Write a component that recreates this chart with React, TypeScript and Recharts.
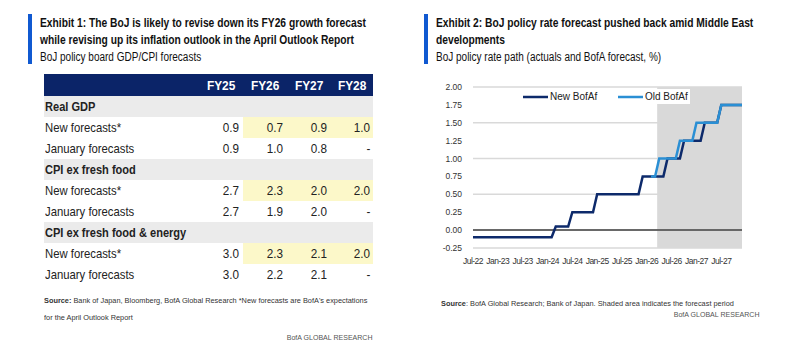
import React from "react";
import {
  CartesianGrid,
  Legend,
  Line,
  LineChart,
  ReferenceArea,
  ReferenceLine,
  XAxis,
  YAxis,
} from "recharts";

// Exhibit 1 table data
const fyYears = ["FY25", "FY26", "FY27", "FY28"];
const sections = ["Real GDP", "CPI ex fresh food", "CPI ex fresh food & energy"];
const newForecasts = [
  ["0.9", "0.7", "0.9", "1.0"],
  ["2.7", "2.3", "2.0", "2.0"],
  ["3.0", "2.3", "2.1", "2.0"],
];
const janForecasts = [
  ["0.9", "1.0", "0.8", "-"],
  ["2.7", "1.9", "2.0", "-"],
  ["3.0", "2.2", "2.1", "-"],
];

// Exhibit 2 chart data (monthly, Jul-22 .. Dec-27)
const months = [
  "Jul-22", "Aug-22", "Sep-22", "Oct-22", "Nov-22", "Dec-22",
  "Jan-23", "Feb-23", "Mar-23", "Apr-23", "May-23", "Jun-23",
  "Jul-23", "Aug-23", "Sep-23", "Oct-23", "Nov-23", "Dec-23",
  "Jan-24", "Feb-24", "Mar-24", "Apr-24", "May-24", "Jun-24",
  "Jul-24", "Aug-24", "Sep-24", "Oct-24", "Nov-24", "Dec-24",
  "Jan-25", "Feb-25", "Mar-25", "Apr-25", "May-25", "Jun-25",
  "Jul-25", "Aug-25", "Sep-25", "Oct-25", "Nov-25", "Dec-25",
  "Jan-26", "Feb-26", "Mar-26", "Apr-26", "May-26", "Jun-26",
  "Jul-26", "Aug-26", "Sep-26", "Oct-26", "Nov-26", "Dec-26",
  "Jan-27", "Feb-27", "Mar-27", "Apr-27", "May-27", "Jun-27",
  "Jul-27", "Aug-27", "Sep-27", "Oct-27", "Nov-27", "Dec-27",
];
const newBofA = [
  -0.1, -0.1, -0.1, -0.1, -0.1, -0.1,
  -0.1, -0.1, -0.1, -0.1, -0.1, -0.1,
  -0.1, -0.1, -0.1, -0.1, -0.1, -0.1,
  -0.1, -0.1, 0.05, 0.05, 0.05, 0.05,
  0.25, 0.25, 0.25, 0.25, 0.25, 0.25,
  0.5, 0.5, 0.5, 0.5, 0.5, 0.5,
  0.5, 0.5, 0.5, 0.5, 0.5, 0.75,
  0.75, 0.75, 0.75, 0.75, 0.75, 1.0,
  1.0, 1.0, 1.0, 1.25, 1.25, 1.25,
  1.25, 1.25, 1.5, 1.5, 1.5, 1.5,
  1.75, 1.75, 1.75, 1.75, 1.75, 1.75,
];
const oldBofA = [
  null, null, null, null, null, null,
  null, null, null, null, null, null,
  null, null, null, null, null, null,
  null, null, null, null, null, null,
  null, null, null, null, null, null,
  null, null, null, null, null, null,
  null, null, null, null, null, null,
  null, 0.75, 0.75, 1.0, 1.0, 1.0,
  1.0, 1.0, 1.25, 1.25, 1.25, 1.25,
  1.5, 1.5, 1.5, 1.5, 1.5, 1.5,
  1.75, 1.75, 1.75, 1.75, 1.75, 1.75,
];
const yTicks = [-0.25, 0, 0.25, 0.5, 0.75, 1.0, 1.25, 1.5, 1.75, 2.0];
const forecastStart = 44.5; // shaded forecast period begins between Mar-26 and Apr-26

const rateData = months.map((m, i) => ({
  i,
  month: m,
  newRate: newBofA[i],
  oldRate: oldBofA[i],
}));
const xTicks = months.map((_, i) => i).filter((i) => i % 6 === 0);

const FONT = "'Liberation Sans', Arial, sans-serif";
const NAVY = "#0b2468";
const BLUE_BAR = "#1059d1";

// squeeze text horizontally to mimic the condensed house font
const Sq = ({ k, origin = "left", children }: { k: number; origin?: string; children: React.ReactNode }) => (
  <span
    style={{
      display: "inline-block",
      transform: `scaleX(${k})`,
      transformOrigin: origin,
      whiteSpace: "nowrap",
    }}
  >
    {children}
  </span>
);

const RateLegend = (props: any) => {
  const items = props.payload || [];
  return (
    <div
      style={{
        display: "flex",
        alignItems: "center",
        background: "#fff",
        height: 15,
        paddingLeft: 5,
        fontFamily: FONT,
        fontSize: 10,
        color: "#222",
      }}
    >
      {items.map((it: any, k: number) => (
        <div key={k} style={{ display: "flex", alignItems: "center", width: k === 0 ? 95 : 72 }}>
          <svg width={25} height={4} style={{ marginRight: 2 }}>
            <line x1={0} y1={2} x2={25} y2={2} stroke={it.color} strokeWidth={2.5} />
          </svg>
          <span style={{ whiteSpace: "nowrap" }}>{it.value}</span>
        </div>
      ))}
    </div>
  );
};

const Title = ({ left, lines, sub }: { left: number; lines: string[]; sub: string }) => (
  <>
    <div style={{ position: "absolute", left: left - 12, top: 14, width: 4, height: 50, background: BLUE_BAR }} />
    <div
      style={{
        position: "absolute",
        left,
        top: 15,
        fontFamily: FONT,
        fontSize: 12.5,
        lineHeight: "17px",
        color: "#111",
        whiteSpace: "nowrap",
      }}
    >
      {lines.map((l) => (
        <div key={l} style={{ fontWeight: "bold" }}>
          <Sq k={0.82}>{l}</Sq>
        </div>
      ))}
      <div>
        <Sq k={0.8}>{sub}</Sq>
      </div>
    </div>
  </>
);

const colW = [44, 44, 44, 42];

const cellBox = (c: number, yellow: boolean): React.CSSProperties => ({
  width: colW[c],
  paddingRight: c === 3 ? 3 : 4,
  boxSizing: "border-box",
  display: "flex",
  alignItems: "center",
  justifyContent: "flex-end",
  background: yellow && c > 0 ? "#fcf8c9" : "transparent",
});

const ForecastTable = () => {
  const row = { display: "flex", height: 21, alignItems: "stretch" } as React.CSSProperties;
  const label = { width: 155, paddingLeft: 1, display: "flex", alignItems: "center" } as React.CSSProperties;
  return (
    <div
      style={{
        position: "absolute",
        left: 44,
        top: 74,
        width: 329,
        fontFamily: FONT,
        fontSize: 13,
        color: "#222",
      }}
    >
      <div style={{ ...row, height: 22, background: NAVY, color: "#fff", fontWeight: "bold", fontSize: 13.5 }}>
        <div style={{ width: 155 }} />
        {fyYears.map((y, c) => (
          <div key={y} style={{ width: colW[c], display: "flex", alignItems: "center", justifyContent: "center" }}>
            <Sq k={0.88} origin="center">
              {y}
            </Sq>
          </div>
        ))}
      </div>
      {sections.map((s, k) => (
        <React.Fragment key={s}>
          <div style={{ ...row, background: "#ebebeb", fontWeight: "bold" }}>
            <div style={label}>
              <Sq k={0.85}>{s}</Sq>
            </div>
          </div>
          <div style={row}>
            <div style={label}>
              <Sq k={0.87}>New forecasts*</Sq>
            </div>
            {newForecasts[k].map((v, c) => (
              <div key={c} style={cellBox(c, true)}>
                <Sq k={0.9} origin="right">
                  {v}
                </Sq>
              </div>
            ))}
          </div>
          <div style={row}>
            <div style={label}>
              <Sq k={0.87}>January forecasts</Sq>
            </div>
            {janForecasts[k].map((v, c) => (
              <div key={c} style={cellBox(c, false)}>
                <Sq k={0.9} origin="right">
                  {v}
                </Sq>
              </div>
            ))}
          </div>
        </React.Fragment>
      ))}
    </div>
  );
};

const small: React.CSSProperties = {
  position: "absolute",
  fontFamily: FONT,
  fontSize: 8,
  color: "#333",
  whiteSpace: "nowrap",
};

const App = () => {
  return (
    <div style={{ position: "absolute", left: 0, top: 0, width: 787, height: 350, background: "#fff" }}>
      <Title
        left={40}
        lines={[
          "Exhibit 1: The BoJ is likely to revise down its FY26 growth forecast",
          "while revising up its inflation outlook in the April Outlook Report",
        ]}
        sub="BoJ policy board GDP/CPI forecasts"
      />
      <ForecastTable />
      <div style={{ ...small, left: 44, top: 292, lineHeight: "17px" }}>
        <div>
          <Sq k={0.92}>
            <b>Source:</b> Bank of Japan, Bloomberg, BofA Global Research *New forecasts are BofA's expectations
          </Sq>
        </div>
        <div>
          <Sq k={0.92}>for the April Outlook Report</Sq>
        </div>
      </div>
      <div style={{ ...small, left: 200, width: 173, top: 333, textAlign: "right", color: "#555" }}>
        <Sq k={0.88} origin="right">
          BofA GLOBAL RESEARCH
        </Sq>
      </div>

      <Title
        left={436}
        lines={["Exhibit 2: BoJ policy rate forecast pushed back amid Middle East", "developments"]}
        sub="BoJ policy rate path (actuals and BofA forecast, %)"
      />
      <div style={{ position: "absolute", left: 420, top: 80, fontFamily: FONT }}>
        <LineChart width={340} height={195} data={rateData} margin={{ top: 7, right: 18, bottom: 7, left: 0 }}>
          <ReferenceArea
            x1={forecastStart}
            x2={65}
            y1={-0.25}
            y2={2}
            fill="#d9d9d9"
            fillOpacity={1}
            stroke="none"
          />
          <CartesianGrid vertical={false} stroke="#d9d9d9" strokeWidth={1.5} />
          <XAxis
            type="number"
            dataKey="i"
            domain={[0, 65]}
            ticks={xTicks}
            interval={0}
            tickFormatter={(v) => months[v]}
            axisLine={false}
            tickLine={false}
            tickMargin={4}
            height={20}
            tick={{ fontSize: 8.5, fill: "#333", letterSpacing: -0.5 }}
          />
          <YAxis
            domain={[-0.25, 2]}
            ticks={yTicks}
            tickFormatter={(v) => Number(v).toFixed(2)}
            width={53}
            axisLine={false}
            tickLine={false}
            tickMargin={5}
            tick={{ fontSize: 8.5, fill: "#333" }}
          />
          <ReferenceLine y={0} stroke="#404040" strokeWidth={1.5} />
          <Legend
            layout="horizontal"
            verticalAlign="middle"
            align="center"
            content={<RateLegend />}
            wrapperStyle={{ position: "absolute", top: 9, left: 98, width: 172 }}
          />
          <Line
            type="linear"
            dataKey="newRate"
            name="New BofAf"
            stroke="#0d2a6b"
            strokeWidth={2.5}
            dot={false}
            activeDot={false}
            isAnimationActive={false}
          />
          <Line
            type="linear"
            dataKey="oldRate"
            name="Old BofAf"
            stroke="#2a8fd4"
            strokeWidth={2.5}
            dot={false}
            activeDot={false}
            isAnimationActive={false}
          />
        </LineChart>
      </div>
      <div style={{ ...small, left: 441, top: 299 }}>
        <Sq k={0.92}>
          <b>Source</b>: BofA Global Research; Bank of Japan. Shaded area indicates the forecast period
        </Sq>
      </div>
      <div style={{ ...small, left: 600, width: 160, top: 310, textAlign: "right", color: "#555" }}>
        <Sq k={0.88} origin="right">
          BofA GLOBAL RESEARCH
        </Sq>
      </div>
    </div>
  );
};

export default App;
